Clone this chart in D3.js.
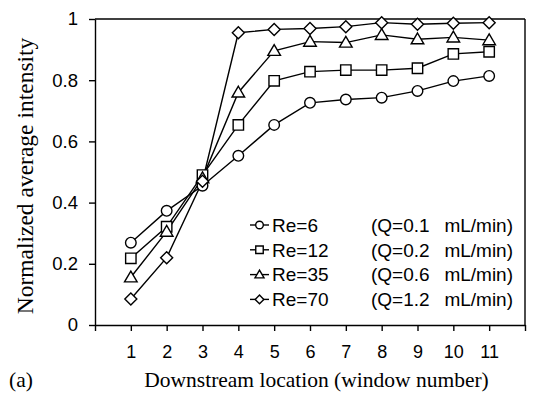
<!DOCTYPE html>
<html><head><meta charset="utf-8">
<script src="https://cdn.jsdelivr.net/npm/d3@7"></script>
<style>body{margin:0;background:#fff}svg{display:block}</style>
</head><body>
<svg id="c" width="537" height="405"></svg>
<script>
const windows = [1,2,3,4,5,6,7,8,9,10,11];
const re6  = [0.269,0.373,0.455,0.553,0.654,0.726,0.737,0.743,0.765,0.797,0.814];
const re12 = [0.218,0.321,0.490,0.654,0.798,0.828,0.833,0.833,0.839,0.886,0.893];
const re35 = [0.156,0.305,0.480,0.760,0.896,0.926,0.923,0.948,0.934,0.940,0.931];
const re70 = [0.085,0.220,0.470,0.955,0.966,0.969,0.975,0.988,0.983,0.986,0.988];
const seriesNames = ["Re=6","Re=12","Re=35","Re=70"];
const flowQ = ["(Q=0.1","(Q=0.2","(Q=0.6","(Q=1.2"];
const flowUnit = "mL/min)";
const markers = ["circle","square","triangle","diamond"];
const yTicks = [0,0.2,0.4,0.6,0.8,1];
const xTicks = [1,2,3,4,5,6,7,8,9,10,11];

const seriesValues = [re6,re12,re35,re70];
const svg = d3.select("#c");
const x = d3.scaleLinear().domain([0,12]).range([95,525]);
const y = d3.scaleLinear().domain([0,1]).range([325,19]);
const sans = "'Liberation Sans', Arial, sans-serif";
const serif = "'Liberation Serif', 'Times New Roman', serif";
const SW = 1.4;

function markerPath(type){
  switch(type){
    case "circle": return "M5.3,0A5.3,5.3 0 1,1 -5.3,0A5.3,5.3 0 1,1 5.3,0Z";
    case "square": return "M-5.2,-5.2H5.2V5.2H-5.2Z";
    case "triangle": return "M0,-6.2L6.3,4.6H-6.3Z";
    case "diamond": return "M0,-6L6,0L0,6L-6,0Z";
  }
}

// frame top & right
svg.append("line").attr("x1",x(0)).attr("x2",x(12)).attr("y1",y(1)).attr("y2",y(1)).attr("stroke","#000").attr("stroke-width",SW);
svg.append("line").attr("x1",x(12)).attr("x2",x(12)).attr("y1",y(1)).attr("y2",y(0)).attr("stroke","#000").attr("stroke-width",SW);

// y axis
const yAxis = svg.append("g").attr("transform",`translate(${x(0)},0)`)
  .call(d3.axisLeft(y).tickValues(yTicks).tickSize(6).tickSizeOuter(0).tickPadding(11)
    .tickFormat(d => d===0||d===1 ? String(d) : d3.format(".1f")(d)));
yAxis.selectAll("path,line").attr("stroke","#000").attr("stroke-width",SW);
yAxis.selectAll("text").attr("font-family",sans).attr("font-size",18.5).attr("fill","#000");

// x axis
const xAxis = svg.append("g").attr("transform",`translate(0,${y(0)})`)
  .call(d3.axisBottom(x).tickValues([0].concat(xTicks).concat([12])).tickSize(6).tickSizeOuter(0).tickPadding(14)
    .tickFormat(d => (d===0||d===12) ? "" : String(d)));
xAxis.selectAll("path,line").attr("stroke","#000").attr("stroke-width",SW);
xAxis.selectAll("text").attr("font-family",sans).attr("font-size",18).attr("fill","#000");

// lines and markers
const line = d3.line().x((d,i)=>x(windows[i])).y(d=>y(d));
seriesValues.forEach((vals,k)=>{
  svg.append("path").attr("d",line(vals)).attr("fill","none").attr("stroke","#000").attr("stroke-width",SW);
});
seriesValues.forEach((vals,k)=>{
  svg.append("g").selectAll("path").data(vals).join("path")
    .attr("transform",(d,i)=>`translate(${x(windows[i])},${y(d)})`)
    .attr("d",markerPath(markers[k]))
    .attr("fill","#fff").attr("stroke","#000").attr("stroke-width",SW);
});

// legend
const lg = svg.append("g");
seriesNames.forEach((name,k)=>{
  const yy = 225 + k*24.8;
  lg.append("line").attr("x1",250).attr("x2",269).attr("y1",yy).attr("y2",yy).attr("stroke","#000").attr("stroke-width",SW);
  lg.append("path").attr("d",markerPath(markers[k]))
    .attr("fill","#fff").attr("stroke","#000").attr("stroke-width",SW/0.72).attr("transform",`translate(259.5,${yy}) scale(0.72)`);
  lg.append("text").attr("x",272).attr("y",yy).attr("dy","0.36em").attr("font-family",sans).attr("font-size",19).text(name);
  lg.append("text").attr("x",371).attr("y",yy).attr("dy","0.36em").attr("font-family",sans).attr("font-size",19).text(flowQ[k]);
  lg.append("text").attr("x",513).attr("y",yy).attr("dy","0.36em").attr("text-anchor","end").attr("font-family",sans).attr("font-size",19).text(flowUnit);
});

// titles
svg.append("text").attr("transform","translate(33,176) rotate(-90)").attr("text-anchor","middle")
  .attr("font-family",serif).attr("font-size",23.5).text("Normalized average intensity");
svg.append("text").attr("x",316.5).attr("y",387).attr("text-anchor","middle")
  .attr("font-family",serif).attr("font-size",21.5).text("Downstream location (window number)");
svg.append("text").attr("x",9).attr("y",387)
  .attr("font-family",serif).attr("font-size",21.5).text("(a)");
</script>
</body></html>
